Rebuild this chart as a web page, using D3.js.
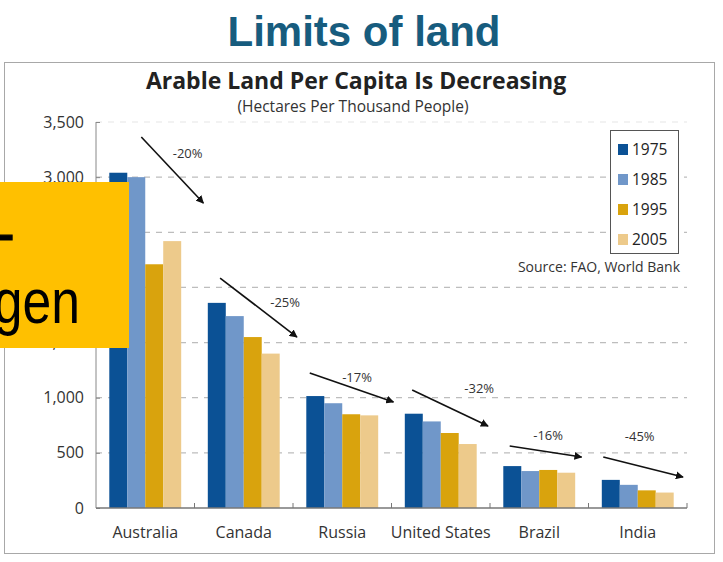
<!DOCTYPE html>
<html>
<head>
<meta charset="utf-8">
<script src="https://cdn.jsdelivr.net/npm/d3@7"></script>
<style>
  body { margin: 0; background: #fff; }
  svg { display: block; }
</style>
</head>
<body>
<div id="chart"></div>
<script>
// chart values
const countries = ['Australia', 'Canada', 'Russia', 'United States', 'Brazil', 'India'];
const years = ['1975', '1985', '1995', '2005'];
const v1975 = [3040, 1860, 1015, 855, 380, 255];
const v1985 = [3000, 1740, 950, 785, 335, 210];
const v1995 = [2210, 1550, 850, 680, 345, 160];
const v2005 = [2420, 1400, 840, 580, 320, 140];
const yTicks = [0, 500, 1000, 1500, 2000, 2500, 3000, 3500];
// arrow annotations: [band fraction, value] start / end, label spot
const arrowFrom = [[0.46, 3364], [0.26, 2085], [0.17, 1224], [0.21, 1070], [0.20, 562], [0.15, 462]];
const arrowTo   = [[1.09, 2765], [1.04, 1550], [1.02, 961], [0.98, 743], [0.93, 462], [0.96, 281]];
const labelAt   = [[0.93, 3175], [0.92, 1827], [0.65, 1147], [0.89, 1047], [0.59, 621], [0.52, 603]];

const colors = ['#0b5195', '#7097c9', '#d9a30d', '#edca8b'];
const series = [v1975, v1985, v1995, v2005];

const W = 723, H = 562;
const svg = d3.select('#chart').append('svg')
  .attr('width', W).attr('height', H)
  .style('font-family', '"Open Sans", Lato, sans-serif');

svg.append('defs').append('marker')
  .attr('id', 'head')
  .attr('viewBox', '0 0 10 10')
  .attr('refX', 9).attr('refY', 5)
  .attr('markerWidth', 5).attr('markerHeight', 5)
  .attr('orient', 'auto')
  .append('path').attr('d', 'M0,0L10,5L0,10z').attr('fill', '#111');

// slide title
svg.append('text')
  .attr('x', 364).attr('y', 46)
  .attr('text-anchor', 'middle')
  .style('font-family', '"Liberation Sans", Arial, sans-serif')
  .style('font-weight', 'bold')
  .style('font-size', '42px')
  .attr('fill', '#175c7e')
  .text('Limits of land');

// frame of the pasted chart
svg.append('rect')
  .attr('x', 4.5).attr('y', 62.5).attr('width', 710).attr('height', 491)
  .attr('fill', '#fff').attr('stroke', '#a8a8a8');

const x = d3.scaleBand().domain(countries).range([96, 687]);
const xs = d3.scaleBand().domain(years).range([0, x.bandwidth()]).paddingOuter(0.74);
const y = d3.scaleLinear().domain([0, 3500]).range([508, 122]);

// dashed grid
svg.append('g').selectAll('line')
  .data(yTicks.filter(d => d > 0))
  .join('line')
  .attr('x1', 96).attr('x2', 687)
  .attr('y1', d => y(d)).attr('y2', d => y(d))
  .attr('stroke', d => d === 3500 ? '#e6e6e6' : '#bdbdbd')
  .attr('stroke-width', 1.2)
  .attr('stroke-dasharray', '6,6');

// bars
const groups = svg.append('g').selectAll('g')
  .data(countries)
  .join('g')
  .attr('transform', d => `translate(${x(d)},0)`);

groups.selectAll('rect')
  .data((c, i) => years.map((yr, j) => ({ yr, j, v: series[j][i] })))
  .join('rect')
  .attr('x', d => xs(d.yr))
  .attr('width', xs.bandwidth())
  .attr('y', d => y(d.v))
  .attr('height', d => y(0) - y(d.v))
  .attr('fill', d => colors[d.j]);

// axes
const yAxis = svg.append('g')
  .attr('transform', 'translate(96,0)')
  .call(d3.axisLeft(y).tickValues(yTicks).tickSize(-4).tickPadding(12).tickFormat(d3.format(',')));
yAxis.select('.domain').attr('stroke', '#888').attr('d', 'M0,122V508');
yAxis.selectAll('.tick line').attr('stroke', '#888');
yAxis.selectAll('text').style('font-size', '16px').style('font-family', '"Open Sans", sans-serif').attr('fill', '#333');

const xAxis = svg.append('g').attr('transform', 'translate(0,508)');
xAxis.append('line').attr('x1', 96).attr('x2', 687).attr('stroke', '#777').attr('stroke-width', 1.5);
xAxis.selectAll('.bt')
  .data(countries)
  .join('line')
  .attr('class', 'bt')
  .attr('x1', d => x(d) + x.bandwidth()).attr('x2', d => x(d) + x.bandwidth())
  .attr('y1', 0).attr('y2', -5)
  .attr('stroke', '#777');
xAxis.selectAll('text')
  .data(countries)
  .join('text')
  .attr('x', d => x(d) + x.bandwidth() / 2)
  .attr('y', 30)
  .attr('text-anchor', 'middle')
  .style('font-size', '16px')
  .attr('fill', '#333')
  .text(d => d);

// change arrows
const ax = (c, f) => x(c) + f * x.bandwidth();
const ann = svg.append('g');
countries.forEach((c, i) => {
  ann.append('line')
    .attr('x1', ax(c, arrowFrom[i][0])).attr('y1', y(arrowFrom[i][1]))
    .attr('x2', ax(c, arrowTo[i][0])).attr('y2', y(arrowTo[i][1]))
    .attr('stroke', '#111').attr('stroke-width', 1.6)
    .attr('marker-end', 'url(#head)');
  const pct = Math.round((v2005[i] - v1975[i]) / v1975[i] * 100);
  ann.append('text')
    .attr('x', ax(c, labelAt[i][0])).attr('y', y(labelAt[i][1]))
    .attr('text-anchor', 'middle')
    .style('font-size', '13px')
    .attr('fill', '#333')
    .text(pct + '%');
});

// titles
svg.append('text')
  .attr('x', 356).attr('y', 89)
  .attr('text-anchor', 'middle')
  .style('font-weight', 'bold')
  .style('font-size', '23px')
  .attr('fill', '#222')
  .text('Arable Land Per Capita Is Decreasing');
svg.append('text')
  .attr('x', 353).attr('y', 112)
  .attr('text-anchor', 'middle')
  .style('font-size', '15.5px')
  .attr('fill', '#333')
  .text('(Hectares Per Thousand People)');

// legend
const lg = svg.append('g').attr('transform', 'translate(610,130)');
lg.append('rect').attr('x', 0.5).attr('y', 0.5).attr('width', 68).attr('height', 123)
  .attr('fill', '#fff').attr('stroke', '#555');
years.forEach((yr, j) => {
  lg.append('rect').attr('x', 8).attr('y', 14 + j * 30).attr('width', 10).attr('height', 11).attr('fill', colors[j]);
  lg.append('text').attr('x', 22).attr('y', 25 + j * 30)
    .style('font-size', '15.5px').attr('fill', '#222').text(yr);
});

svg.append('text')
  .attr('x', 680).attr('y', 272)
  .attr('text-anchor', 'end')
  .style('font-size', '14px')
  .attr('fill', '#333')
  .text('Source: FAO, World Bank');

// orange callout box lying over the chart
svg.append('clipPath').attr('id', 'boxclip')
  .append('rect').attr('x', 0).attr('y', 182).attr('width', 129).attr('height', 166);
svg.append('rect')
  .attr('x', 0).attr('y', 182).attr('width', 129).attr('height', 166)
  .attr('fill', '#ffc000');
const bt = svg.append('g').attr('clip-path', 'url(#boxclip)')
  .append('g').attr('transform', 'translate(80,0) scale(0.82,1)');
bt.append('text')
  .attr('x', -80).attr('y', 254)
  .attr('text-anchor', 'end')
  .style('font-family', '"Liberation Sans", Arial, sans-serif')
  .style('font-size', '62px')
  .attr('fill', '#000')
  .attr('stroke', '#000')
  .attr('stroke-width', 1.2)
  .text('-');
bt.append('text')
  .attr('x', 0).attr('y', 323)
  .attr('text-anchor', 'end')
  .style('font-family', '"Liberation Sans", Arial, sans-serif')
  .style('font-size', '63px')
  .attr('fill', '#000')
  .text('gen');
</script>
</body>
</html>
